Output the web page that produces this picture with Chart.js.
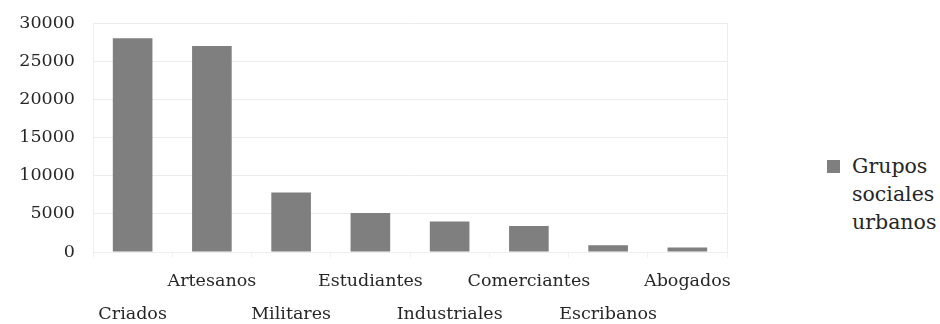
<!DOCTYPE html>
<html>
<head>
<meta charset="utf-8">
<script src="https://cdn.jsdelivr.net/npm/chart.js@4/dist/chart.umd.min.js"></script>
<style>
  html, body { margin: 0; padding: 0; background: #fff; overflow: hidden; }
  #wrap { position: relative; width: 940px; height: 324px; }
  #chartBox { position: absolute; left: 0; top: 0; width: 760px; height: 324px; }
  #legend { position: absolute; left: 827px; top: 152px; font-family: "DejaVu Serif", serif; font-size: 20.5px; line-height: 28px; color: #262626; }
  #legend .sw { position: absolute; left: 0; top: 8px; width: 13px; height: 13px; background: #7f7f7f; }
  #legend .tx { margin-left: 25px; }
</style>
</head>
<body>
<div id="wrap">
  <div id="chartBox"><canvas id="c" width="760" height="324"></canvas></div>
  <div id="legend"><div class="sw"></div><div class="tx" id="legendText"></div></div>
</div>
<script>
const categories = ["Criados", "Artesanos", "Militares", "Estudiantes", "Industriales", "Comerciantes", "Escribanos", "Abogados"];
const seriesName = "Grupos sociales urbanos";
const values = [28000, 27000, 7800, 5100, 4000, 3400, 900, 600];
const yTicks = [0, 5000, 10000, 15000, 20000, 25000, 30000];

document.getElementById('legendText').innerHTML = seriesName.split(' ').join('<br>');

// staggered labels: even indexes on lower row, odd on upper row
const staggered = categories.map((c, i) => (i % 2 === 0 ? ['', c] : [c]));

const font = { family: "'DejaVu Serif', serif", size: 17.5 };

new Chart(document.getElementById('c'), {
  type: 'bar',
  data: {
    labels: staggered,
    datasets: [{
      label: seriesName,
      data: values,
      backgroundColor: '#7f7f7f',
      borderWidth: 0,
      barPercentage: 0.5,
      categoryPercentage: 1.0
    }]
  },
  options: {
    responsive: false,
    animation: false,
    layout: { padding: { left: 0, right: 33, top: 23, bottom: 0 } },
    plugins: { legend: { display: false }, tooltip: { enabled: false } },
    scales: {
      x: {
        grid: { display: true, drawOnChartArea: false, drawTicks: true, tickLength: 6, color: '#f2f2f2' },
        border: { display: true, color: '#eeeeee' },
        ticks: { color: '#262626', font: { ...font, lineHeight: 33 / 17.5 }, maxRotation: 0, autoSkip: false, padding: 7 },
        afterFit: (s) => { s.height = 72; s.paddingLeft = 0; s.paddingRight = 0; }
      },
      y: {
        min: 0, max: 30000,
        afterBuildTicks: (s) => { s.ticks = yTicks.map(v => ({ value: v })); },
        grid: { color: '#ececec', drawTicks: false },
        border: { display: true, color: '#eeeeee' },
        ticks: { color: '#262626', font: font, padding: 18, callback: (v) => String(v) },
        afterFit: (s) => { s.width = 93; s.paddingTop = 0; s.paddingBottom = 0; }
      }
    }
  },
  plugins: [{
    id: 'rightBorder',
    afterDraw(chart) {
      const { ctx, chartArea: a } = chart;
      ctx.save();
      ctx.strokeStyle = '#eeeeee';
      ctx.lineWidth = 1;
      ctx.beginPath();
      ctx.moveTo(Math.round(a.right) + 0.5, a.top);
      ctx.lineTo(Math.round(a.right) + 0.5, a.bottom);
      ctx.stroke();
      ctx.restore();
    }
  }]
});
</script>
</body>
</html>
